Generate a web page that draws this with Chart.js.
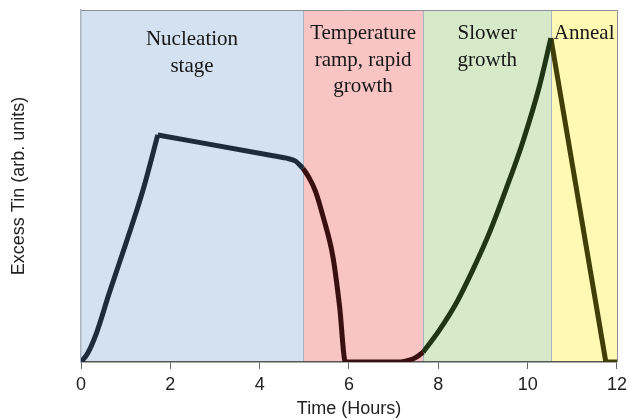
<!DOCTYPE html>
<html>
<head>
<meta charset="utf-8">
<script src="https://cdn.jsdelivr.net/npm/chart.js@4/dist/chart.umd.min.js"></script>
<style>
  html, body { margin: 0; padding: 0; background: #ffffff; }
  #wrap { width: 632px; height: 420px; }
</style>
</head>
<body>
<div id="wrap"><canvas id="c" width="632" height="420"></canvas></div>
<script>
// ---- data ----
const nucleationX = [0, 0.15, 0.34, 0.63, 1.0, 1.38, 1.72, 4.3, 4.6, 4.8, 4.97];
const nucleationY = [0, 2.5, 8, 19.5, 33.5, 48.5, 64.5, 58.6, 57.9, 57.1, 55];

const rampX = [4.97, 5.1, 5.25, 5.42, 5.64, 5.79, 5.92, 7.15, 7.35, 7.5, 7.66];
const rampY = [55, 52.5, 48.5, 41.3, 29.9, 15.7, 0, 0, 0.5, 1.3, 2.8];

const slowX = [7.66, 8.02, 8.4, 8.77, 9.14, 9.51, 9.88, 10.26, 10.52];
const slowY = [2.8, 9, 16.7, 26.1, 36.6, 48.9, 62.1, 78.2, 92];

const annealX = [10.52, 11.75, 12];
const annealY = [92, 0, 0];

// stage regions (hours)
const regionStart = [0, 4.97, 7.66, 10.53];
const regionEnd   = [4.97, 7.66, 10.53, 12];
const regionLabels = [
  ["Nucleation", "stage"],
  ["Temperature", "ramp, rapid", "growth"],
  ["Slower", "growth"],
  ["Anneal"]
];
const regionColors = ["#d4e1f1", "#f8c4c4", "#d6eaca", "#fff9b3"];
const lineColors = ["#1d2b3b", "#3a0f0f", "#1f3514", "#403e09"];

const xTicks = [0, 2, 4, 6, 8, 10, 12];

function pts(xs, ys) { return xs.map((x, i) => ({ x: x, y: ys[i] })); }

const regionsPlugin = {
  id: 'regions',
  beforeDraw(chart) {
    const { ctx, chartArea: a, scales: { x } } = chart;
    ctx.save();
    for (let i = 0; i < regionStart.length; i++) {
      const x0 = x.getPixelForValue(regionStart[i]);
      const x1 = x.getPixelForValue(regionEnd[i]);
      ctx.fillStyle = regionColors[i];
      ctx.fillRect(x0, a.top, x1 - x0, a.bottom - a.top);
    }
    // thin dividers
    ctx.strokeStyle = '#a7b4c2';
    ctx.lineWidth = 1;
    for (let i = 1; i < regionStart.length; i++) {
      const px = Math.round(x.getPixelForValue(regionStart[i])) + 0.5;
      ctx.beginPath();
      ctx.moveTo(px, a.top);
      ctx.lineTo(px, a.bottom);
      ctx.stroke();
    }
    // top and right frame
    ctx.strokeStyle = '#8a8f96';
    ctx.beginPath();
    ctx.moveTo(a.left, a.top + 0.5);
    ctx.lineTo(a.right + 0.5, a.top + 0.5);
    ctx.lineTo(a.right + 0.5, a.bottom);
    ctx.stroke();
    // labels
    ctx.fillStyle = '#161616';
    ctx.font = '21px "Liberation Serif", serif';
    ctx.textAlign = 'center';
    ctx.textBaseline = 'alphabetic';
    for (let i = 0; i < regionLabels.length; i++) {
      const cx = (x.getPixelForValue(regionStart[i]) + x.getPixelForValue(regionEnd[i])) / 2;
      const base = a.top + (i === 0 ? 35 : 29);
      regionLabels[i].forEach((t, k) => {
        ctx.fillText(t, cx, base + k * 26.5);
      });
    }
    ctx.restore();
  }
};

const mkSet = (xs, ys, col, smooth) => ({
  data: pts(xs, ys),
  borderColor: col,
  borderWidth: 5,
  pointRadius: 0,
  tension: smooth ? 0.4 : 0,
  cubicInterpolationMode: smooth ? 'monotone' : 'default',
  borderJoinStyle: 'round',
  borderCapStyle: 'butt',
  fill: false
});

new Chart(document.getElementById('c'), {
  type: 'line',
  data: {
    datasets: [
      mkSet(nucleationX.slice(0, 7), nucleationY.slice(0, 7), lineColors[0], true),
      mkSet(nucleationX.slice(6), nucleationY.slice(6), lineColors[0], true),
      mkSet(rampX, rampY, lineColors[1], true),
      mkSet(slowX, slowY, lineColors[2], true),
      mkSet(annealX, annealY, lineColors[3], false)
    ]
  },
  options: {
    responsive: false,
    animation: false,
    devicePixelRatio: 1,
    layout: { padding: { top: 10, right: 14, left: 0, bottom: 0 } },
    plugins: { legend: { display: false }, tooltip: { enabled: false } },
    scales: {
      x: {
        type: 'linear',
        min: 0, max: 12,
        afterFit(s) { s.height = 58; },
        afterBuildTicks(s) { s.ticks = xTicks.map(v => ({ value: v })); },
        ticks: {
          font: { family: '"Liberation Sans", Arial, sans-serif', size: 18 },
          color: '#222',
          padding: 5,
          maxRotation: 0
        },
        grid: { drawOnChartArea: false, tickLength: 7, color: '#666', lineWidth: 1 },
        border: { color: '#555', width: 1.5 },
        title: {
          display: true,
          text: 'Time (Hours)',
          font: { family: '"Liberation Sans", Arial, sans-serif', size: 18 },
          color: '#222',
          padding: { top: 0, bottom: 0 }
        }
      },
      y: {
        min: 0, max: 100,
        afterFit(s) { s.width = 81; },
        ticks: { display: false },
        grid: { display: false, drawTicks: false },
        border: { display: true, color: '#a9b3bf', width: 1.5 },
        title: {
          display: true,
          text: 'Excess Tin (arb. units)',
          font: { family: '"Liberation Sans", Arial, sans-serif', size: 18 },
          color: '#222',
          padding: { top: 8, bottom: 0 }
        }
      }
    }
  },
  plugins: [regionsPlugin]
});
</script>
</body>
</html>
